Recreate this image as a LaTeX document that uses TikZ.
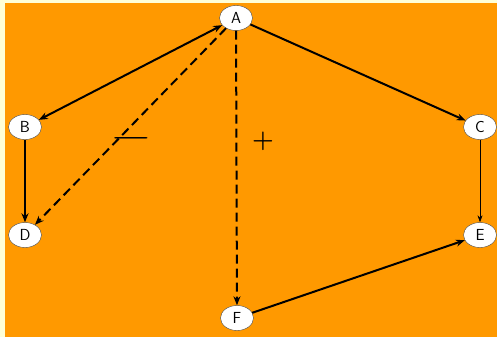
\documentclass[tikz,border=0pt]{standalone}
\usepackage{tikz}
\usetikzlibrary{arrows.meta, shapes.geometric}

\definecolor{slideorange}{HTML}{FF9900}
\definecolor{slidecream}{HTML}{FFFFD6}

\begin{document}
\begin{tikzpicture}[
        x=1pt, y=-1pt,
        vertex/.style={ellipse, draw=black!70, thin, fill=white, minimum width=33pt, minimum height=25pt, inner sep=0pt, font=\sffamily\fontsize{16}{18}\selectfont},
        edge/.style={-{Stealth[length=9pt, width=7pt]}, line width=2pt},
        dashededge/.style={edge, dash pattern=on 9pt off 5pt},
        thinedge/.style={-{Stealth[length=7pt, width=5pt]}, line width=0.7pt},
        sign/.style={font=\fontsize{26}{28}\selectfont\boldmath, inner sep=0pt},
        ]

        % Background
        \fill[slidecream] (0,0) rectangle (497,337);
        \fill[slideorange] (5,3) rectangle (497,337);
        \useasboundingbox (0,0) rectangle (497,337);

        % Vertices
        \node[vertex] (a) at (236,18) {A};
        \node[vertex] (b) at (25,127) {B};
        \node[vertex] (c) at (480,127) {C};
        \node[vertex] (d) at (25,235) {D};
        \node[vertex] (e) at (480,235) {E};
        \node[vertex] (f) at (237,318) {F};

        % Edges
        \draw[edge, {Stealth[length=9pt, width=7pt]}-{Stealth[length=9pt, width=7pt]}] (a) -- (b);
        \draw[edge] (a) -- (c);
        \draw[dashededge] (a) -- (d);
        \draw[dashededge] (a) -- (f);
        \draw[edge] (b) -- (d);
        \draw[thinedge] (c) -- (e);
        \draw[edge] (f) -- (e);

        % Signs
        \node[sign, xscale=1.9] (minus) at (131,138) {$-$};
        \node[sign] (plus) at (263,141) {$+$};

    \end{tikzpicture}
\end{document}
